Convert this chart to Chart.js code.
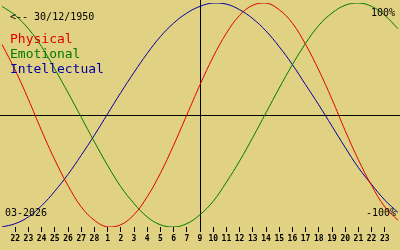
<!DOCTYPE html>
<html>
<head>
<meta charset="utf-8">
<script src="https://cdn.jsdelivr.net/npm/chart.js@4/dist/chart.umd.min.js"></script>
<style>
  html, body { margin: 0; padding: 0; background: #e1d182; }
  #wrap { width: 400px; height: 250px; position: relative; }
</style>
</head>
<body>
<div id="wrap"><canvas id="bio"></canvas></div>
<script>
// day labels, one per day column (edges are empty)
const jours = ['', '22', '23', '24', '25', '26', '27', '28', '1', '2', '3', '4', '5', '6', '7',
  '9', '10', '11', '12', '13', '14', '15', '16', '17', '18', '19', '20', '21', '22', '23', ''];

// values, -1 = -100%, 1 = 100%
const physique = [0.63, 0.40, 0.14, -0.14, -0.40, -0.63, -0.82, -0.94, -1.00, -0.98, -0.89,
  -0.73, -0.52, -0.27, 0.00, 0.27, 0.52, 0.73, 0.89, 0.98, 1.00, 0.94, 0.82, 0.63, 0.40,
  0.14, -0.14, -0.40, -0.63, -0.82, -0.94];
const emotionnel = [0.97, 0.89, 0.77, 0.61, 0.41, 0.20, -0.02, -0.24, -0.45, -0.64, -0.79,
  -0.91, -0.98, -1.00, -0.97, -0.89, -0.77, -0.60, -0.41, -0.20, 0.02, 0.24, 0.45, 0.64,
  0.80, 0.91, 0.98, 1.00, 0.97, 0.89, 0.77];
const intellectuel = [-1.00, -0.97, -0.91, -0.81, -0.68, -0.53, -0.36, -0.18, 0.01, 0.20,
  0.38, 0.55, 0.70, 0.82, 0.91, 0.97, 1.00, 0.99, 0.94, 0.86, 0.75, 0.61, 0.45, 0.27, 0.09,
  -0.10, -0.29, -0.47, -0.62, -0.76, -0.87];

const indexAujourdhui = 15;
const naissance = '<-- 30/12/1950';
const mois = '03-2026';
const haut = '100%';
const bas = '-100%';

const decor = {
  id: 'decor',
  beforeDatasetsDraw(chart) {
    const { ctx } = chart;
    const x = chart.scales.x;
    const y = chart.scales.y;
    ctx.save();
    ctx.fillStyle = '#000';
    const y0 = Math.round(y.getPixelForValue(0));
    ctx.fillRect(0, y0, chart.width, 1);
    const xa = Math.round(x.getPixelForValue(indexAujourdhui));
    ctx.fillRect(xa, 0, 1, chart.chartArea.bottom + 3);
    ctx.restore();
  },
  afterDraw(chart) {
    const { ctx } = chart;
    ctx.save();
    ctx.fillStyle = '#000';
    ctx.font = '10px "DejaVu Sans Mono"';
    ctx.textAlign = 'left';
    ctx.fillText(naissance, 10, 20);
    ctx.fillText(mois, 5, 216);
    ctx.textAlign = 'right';
    ctx.fillText(haut, 395, 16);
    ctx.fillText(bas, 396, 216);
    ctx.textAlign = 'left';
    ctx.font = '13px "DejaVu Sans Mono"';
    chart.data.datasets.forEach((ds, i) => {
      ctx.fillStyle = ds.borderColor;
      ctx.fillText(ds.label, 10, 43 + i * 15);
    });
    ctx.restore();
  }
};

new Chart(document.getElementById('bio'), {
  type: 'line',
  data: {
    labels: jours,
    datasets: [
      { label: 'Physical', data: physique, borderColor: '#e00000' },
      { label: 'Emotional', data: emotionnel, borderColor: '#007a00' },
      { label: 'Intellectual', data: intellectuel, borderColor: '#0000a0' }
    ]
  },
  options: {
    responsive: true,
    maintainAspectRatio: false,
    animation: false,
    layout: { padding: { top: 3, left: 0, right: 0, bottom: 0 } },
    elements: {
      line: { borderWidth: 1, tension: 0.4 },
      point: { radius: 0 }
    },
    plugins: { legend: { display: false }, tooltip: { enabled: false } },
    scales: {
      x: {
        offset: false,
        border: { display: false },
        grid: {
          drawOnChartArea: false,
          tickLength: 5,
          tickColor: c => (c.tick && c.tick.label !== '' ? '#000' : 'rgba(0,0,0,0)')
        },
        ticks: {
          autoSkip: false,
          maxRotation: 0,
          padding: 2,
          color: '#000',
          font: { family: 'DejaVu Sans Mono', size: 8, weight: 'bold' }
        },
        afterFit: s => { s.height = 23; }
      },
      y: {
        display: false,
        min: -1,
        max: 1
      }
    }
  },
  plugins: [decor]
});
</script>
</body>
</html>
